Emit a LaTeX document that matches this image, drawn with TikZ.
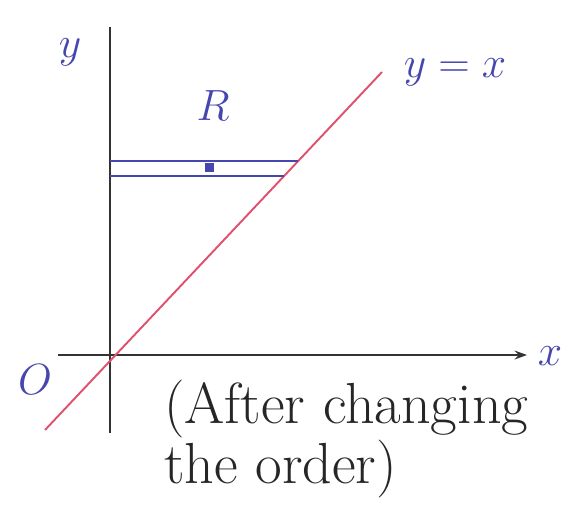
\documentclass[tikz,border=0pt]{standalone}
\usetikzlibrary{arrows.meta}
\definecolor{inkblue}{RGB}{70,70,175}
\definecolor{inkred}{RGB}{225,80,110}
\begin{document}
\begin{tikzpicture}[x=0.02cm, y=-0.02cm,
  ax/.style={line width=1.6pt, black!80},
  lbl/.style={text=inkblue, inner sep=0pt},
  strip/.style={inkblue, line width=0.9pt}]
\useasboundingbox (0,0) rectangle (588,507);
% axes
\coordinate (ytop) at (110,27);
\coordinate (ybot) at (110,433);
\coordinate (xl) at (58,355);
\coordinate (xr) at (527,355);
\draw[ax] (ybot) -- (ytop);
\draw[ax,-{Stealth[length=7pt,width=5pt]}] (xl) -- (xr);
% the line y = x
\coordinate (lo) at (45,430);
\coordinate (hi) at (382,72);
\draw[inkred, line width=1.1pt] (lo) -- (hi);
% horizontal strip
\coordinate (s1) at (110,161);
\coordinate (s2) at (298,161);
\coordinate (s3) at (110,176);
\coordinate (s4) at (284,176);
\draw[strip] (s1) -- (s2);
\draw[strip] (s3) -- (s4);
\fill[inkblue] (205,163) rectangle (214,172);
% labels
\node[lbl, font=\fontsize{32}{32}\selectfont] (ylab) at (70,52) {$y$};
\node[lbl, font=\fontsize{28}{28}\selectfont] (Rlab) at (213,106) {$R$};
\node[lbl, font=\fontsize{26}{26}\selectfont] (eqlab) at (455,72) {$y=x$};
\node[lbl, font=\fontsize{24}{24}\selectfont] (Olab) at (35,380) {$O$};
\node[lbl, font=\fontsize{24}{24}\selectfont] (xlab) at (550,356) {$x$};
\node[text=black!85, font=\fontsize{33}{30}\selectfont, align=left, anchor=north west]
  (note) at (158,374) {(After changing\\the order)};
\end{tikzpicture}
\end{document}
